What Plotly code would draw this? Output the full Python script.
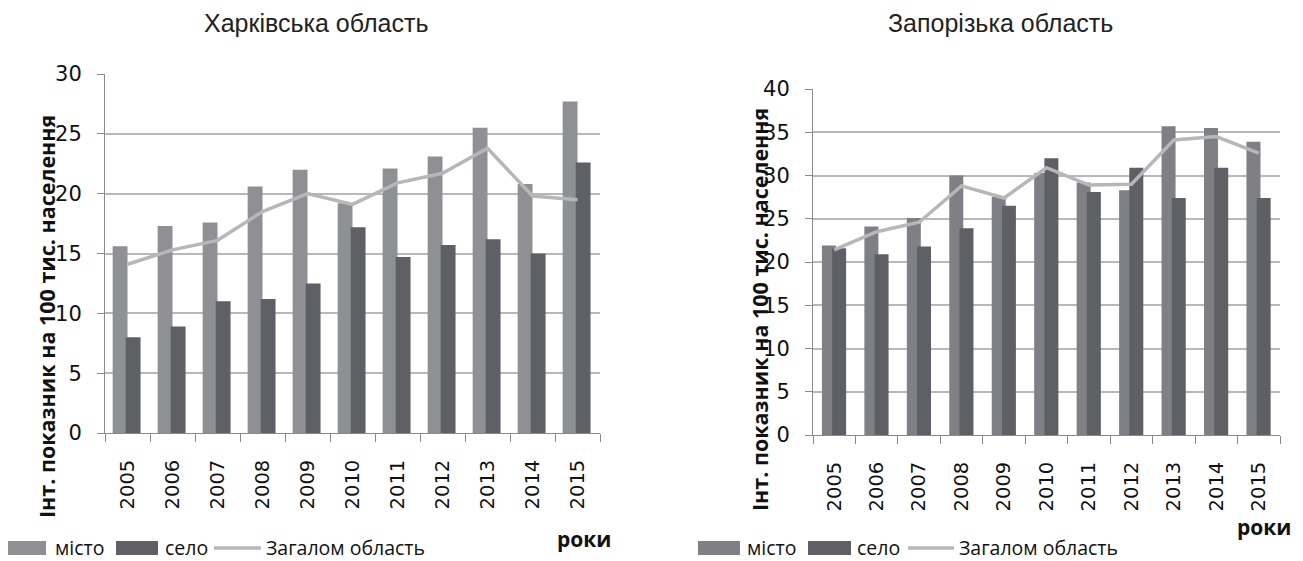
import plotly.graph_objects as go

W, H = 1303, 561
# the page places the figure with a small body margin; compensate so marks land where the reference has them
OX, OY = 7, 8

years = ["2005", "2006", "2007", "2008", "2009", "2010", "2011", "2012", "2013", "2014", "2015"]

# Харківська область
kh_misto = [15.6, 17.3, 17.6, 20.6, 22.0, 19.2, 22.1, 23.1, 25.5, 20.8, 27.7]
kh_selo = [8.0, 8.9, 11.0, 11.2, 12.5, 17.2, 14.7, 15.7, 16.2, 15.0, 22.6]
kh_total = [14.1, 15.3, 16.1, 18.5, 20.0, 19.1, 20.9, 21.7, 23.8, 19.8, 19.5]

# Запорізька область
zp_misto = [21.9, 24.1, 25.1, 30.0, 27.5, 30.3, 29.2, 28.3, 35.7, 35.5, 33.9]
zp_selo = [21.6, 20.9, 21.8, 23.9, 26.5, 32.0, 28.1, 30.9, 27.4, 30.9, 27.4]
zp_total = [21.4, 23.5, 24.6, 28.8, 27.4, 30.9, 28.9, 29.0, 34.1, 34.5, 32.6]

titles = ["Харківська область", "Запорізька область"]
y_title = "Інт. показник на 100 тис. населення"
x_title = "роки"
legend_names = ["місто", "село", "Загалом область"]

C_MISTO_L = "#8f9094"
C_MISTO_R = "#7f8085"
C_SELO = "#5f6065"
C_LINE = "#b6b7b9"
GRID = "#b8b8b8"
AXIS = "#8a8a8a"
TICKFONT = "DejaVu Sans"


def px(x):
    return (x - OX) / W


def py(y):
    return 1 - (y - OY) / H


fig = go.Figure()

for i, (m, s, t, cm) in enumerate([(kh_misto, kh_selo, kh_total, C_MISTO_L),
                                    (zp_misto, zp_selo, zp_total, C_MISTO_R)]):
    xa = "x" if i == 0 else "x2"
    ya = "y" if i == 0 else "y2"
    off_m, off_s, wd = (-0.33, -0.04, 0.33) if i == 0 else (-0.29, -0.05, 0.33)
    fig.add_trace(go.Bar(x=years, y=m, name=legend_names[0], marker_color=cm,
                         marker_line_width=0, width=wd, offset=off_m,
                         xaxis=xa, yaxis=ya, showlegend=False))
    fig.add_trace(go.Bar(x=years, y=s, name=legend_names[1], marker_color=C_SELO,
                         marker_line_width=0, width=wd, offset=off_s,
                         xaxis=xa, yaxis=ya, showlegend=False))
    fig.add_trace(go.Scatter(x=years, y=t, name=legend_names[2], mode="lines",
                             line=dict(color=C_LINE, width=3.5),
                             xaxis=xa, yaxis=ya, showlegend=False))

xcommon = dict(type="category", range=[-0.5, 10.5], showgrid=False, showline=True,
               linecolor=AXIS, linewidth=1, ticks="outside", tickson="boundaries",
               ticklen=8, tickcolor=AXIS, tickangle=-90, automargin=False,
               ticklabelstandoff=18,
               tickfont=dict(family=TICKFONT, size=19.5, color="#111"))
ycommon = dict(showgrid=True, gridcolor=GRID, gridwidth=1.5, showline=True,
               linecolor=AXIS, linewidth=1, ticks="outside", ticklen=7,
               tickcolor=AXIS, dtick=5, zeroline=False, automargin=False,
               ticklabelstandoff=11,
               tickfont=dict(family=TICKFONT, size=21, color="#111"))

fig.update_layout(
    width=W, height=H, margin=dict(l=0, r=0, t=0, b=0, pad=0, autoexpand=False),
    paper_bgcolor="white", plot_bgcolor="white",
    barmode="overlay", showlegend=False,
    xaxis=dict(domain=[px(104), px(599)], anchor="y", **xcommon),
    yaxis=dict(domain=[py(433), py(74)], range=[0, 30], anchor="x", **ycommon),
    xaxis2=dict(domain=[px(812), px(1279)], anchor="y2", **xcommon),
    yaxis2=dict(domain=[py(435), py(89)], range=[0, 40], anchor="x2", **ycommon),
)

ann = []
# titles
for txt, xc in [(titles[0], 315), (titles[1], 999)]:
    ann.append(dict(text=txt, x=px(xc), y=py(23), xref="paper", yref="paper",
                    xanchor="center", yanchor="middle", showarrow=False,
                    font=dict(family="Liberation Sans", size=25, color="#222")))
# y titles
for xc, yc in [(45, 317), (758, 310)]:
    ann.append(dict(text="<b>" + y_title + "</b>", x=px(xc), y=py(yc), xref="paper",
                    yref="paper", xanchor="center", yanchor="middle",
                    showarrow=False, textangle=-90,
                    font=dict(family="Open Sans", size=21.5, color="#111")))
# x titles
for xc, yc in [(583, 539), (1263, 527)]:
    ann.append(dict(text="<b>" + x_title + "</b>", x=px(xc), y=py(yc), xref="paper",
                    yref="paper", xanchor="center", yanchor="middle", showarrow=False,
                    font=dict(family="Open Sans", size=21, color="#111")))

shapes = []
# custom legends (swatches + real text)
legends = [
    dict(y=548, items=[(5, 45, C_MISTO_L, "rect", 52), (115, 157, C_SELO, "rect", 162),
                       (213, 260, C_LINE, "line", 263)]),
    dict(y=548, items=[(697, 739, C_MISTO_R, "rect", 744), (807, 850, C_SELO, "rect", 854),
                       (907, 953, C_LINE, "line", 956)]),
]
for lg in legends:
    yc = lg["y"]
    for (x0, x1, col, kind, tx), name in zip(lg["items"], legend_names):
        if kind == "rect":
            shapes.append(dict(type="rect", xref="paper", yref="paper",
                               x0=px(x0), x1=px(x1), y0=py(yc + 7), y1=py(yc - 7),
                               fillcolor=col, line=dict(width=0)))
        else:
            shapes.append(dict(type="line", xref="paper", yref="paper",
                               x0=px(x0), x1=px(x1), y0=py(yc), y1=py(yc),
                               line=dict(color=col, width=3.5)))
        ann.append(dict(text=name, x=px(tx), y=py(yc - 1), xref="paper", yref="paper",
                        xanchor="left", yanchor="middle", showarrow=False,
                        font=dict(family="Open Sans", size=19.5, color="#111")))

fig.update_layout(annotations=ann, shapes=shapes)
fig.write_html("out.html")
